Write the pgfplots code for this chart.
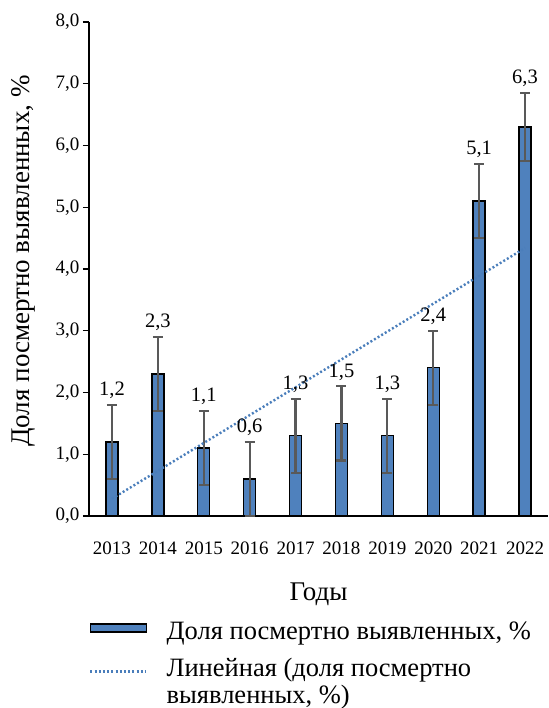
\documentclass[border=0pt]{standalone}
\usepackage{fontspec}
\setmainfont{Liberation Serif}
\usepackage{pgfplots}
\pgfplotsset{compat=1.18}
\usepackage{pgfplotstable}
\definecolor{barblue}{HTML}{4F81BD}
\definecolor{trendblue}{HTML}{4A7EBB}
\definecolor{errgray}{HTML}{595959}
\pgfplotstableread{
x y err top lab
0 1.2 0.6 1.95 1,2
1 2.3 0.6 3.05 2,3
2 1.1 0.6 1.85 1,1
3 0.6 0.6 1.35 0,6
4 1.3 0.6 2.05 1,3
5 1.5 0.6 2.25 1,5
6 1.3 0.6 2.05 1,3
7 2.4 0.6 3.15 2,4
8 5.1 0.6 5.85 5,1
9 6.3 0.55 7.0 6,3
}\datatable
\begin{document}
\begin{tikzpicture}
\useasboundingbox (-89pt,-192pt) rectangle (459pt,516pt);
\begin{axis}[
  at={(0pt,0pt)}, anchor=south west,
  scale only axis, width=459pt, height=494pt,
  xmin=-0.5, xmax=9.5, ymin=0, ymax=8,
  axis lines*=left,
  axis line style={line width=1.4pt},
  tick align=outside,
  major tick length=6pt, minor tick length=6pt,
  every tick/.style={black, line width=1.4pt},
  xtick={0,...,9},
  xticklabels={2013,2014,2015,2016,2017,2018,2019,2020,2021,2022},
  x tick style={draw=none},
  minor xtick={-0.5,0.5,...,9.5},
  minor x tick style={black, line width=1.4pt},
  ytick={0,1,...,8},
  y tick style={black, line width=1.4pt},
  /pgf/number format/assume math mode=true,
  yticklabel style={/pgf/number format/.cd, use comma, fixed, fixed zerofill, precision=1},
  ticklabel style={font=\fontsize{19}{22}\selectfont},
  xticklabel style={yshift=-16pt},
  xlabel={Годы},
  xlabel style={yshift=-22pt},
  ylabel={Доля посмертно выявленных, \%},
  ylabel style={yshift=14pt, xshift=8pt},
  label style={font=\fontsize{27}{32}\selectfont},
  clip=false,
  legend style={draw=none, at={(0,-0.205)}, anchor=north west,
    font=\fontsize{26.5}{27}\selectfont, cells={anchor=base west},
    row sep=13pt, column sep=17pt, inner xsep=0pt},
]
\addplot[ybar, bar width=12pt, fill=barblue, draw=black, line width=1.4pt,
  legend image code/.code={\draw[fill=barblue, draw=black, line width=1.4pt] (2pt,7pt) rectangle (58pt,15pt);},
  error bars/.cd, y dir=both, y explicit,
  error bar style={errgray, line width=2.2pt},
  error mark options={rotate=90, mark size=5pt, errgray, line width=2.2pt},
  ]
  table[x=x, y=y, y error=err] {\datatable};
\addlegendentry{Доля посмертно выявленных, \%}
\addplot[trendblue, line width=2.4pt, dash pattern=on 2pt off 2.2pt,
  legend image code/.code={\draw[trendblue, line width=2.4pt, dash pattern=on 2pt off 2.2pt] (2pt,5pt) -- (58pt,5pt);}]
  coordinates {(0,0.28) (9,4.34)};
\addlegendentry{\begin{tabular}[t]{@{}l@{}}Линейная (доля посмертно\\выявленных, \%)\end{tabular}}
\addplot[draw=none, mark=none, nodes near coords, point meta=explicit symbolic,
  nodes near coords style={anchor=base, font=\fontsize{20.5}{24}\selectfont}, forget plot]
  table[x=x, y=top, meta=lab] {\datatable};
\end{axis}
\end{tikzpicture}
\end{document}
